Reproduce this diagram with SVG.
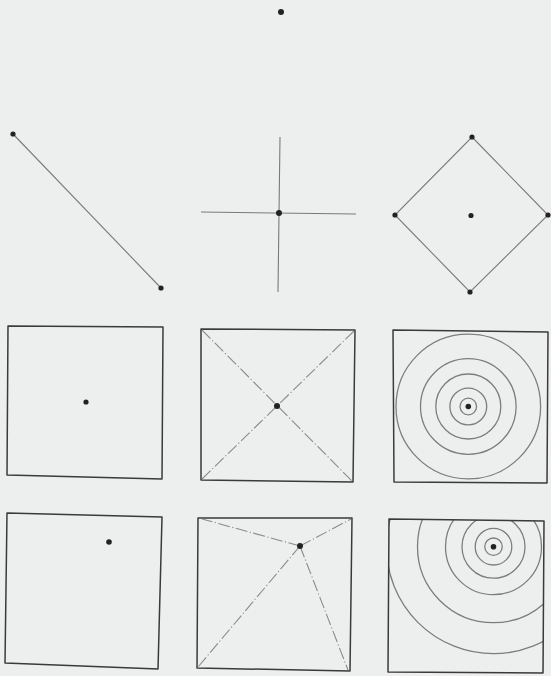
<svg xmlns="http://www.w3.org/2000/svg" width="551" height="676" viewBox="0 0 551 676">
<style>
.box{fill:none;stroke:#3a3a3a;stroke-width:1.5;stroke-linejoin:round}
.thin{fill:none;stroke:#7a7a7a;stroke-width:1.1}
.ring{fill:none;stroke:#7d7d7d;stroke-width:1.3}
.dd{fill:none;stroke:#8a8a8a;stroke-width:1.1;stroke-dasharray:12 2.5 1.2 2.5}
.dot{fill:#222}
</style>
<defs>
<clipPath id="clipBR"><polygon points="389,519 544,521 543,673 388,672"/></clipPath>
</defs>
<rect width="551" height="676" fill="#edefee"/>
<g id="point-top"><circle class="dot" cx="281" cy="12" r="3"/></g>
<g id="line-segment">
<line class="thin" x1="13" y1="134" x2="161" y2="288"/>
<circle class="dot" cx="13" cy="134" r="2.6"/>
<circle class="dot" cx="161" cy="288" r="2.6"/>
</g>
<g id="cross">
<line class="thin" x1="280" y1="137" x2="278" y2="292"/>
<line class="thin" x1="201" y1="212" x2="356" y2="214"/>
<circle class="dot" cx="279" cy="213" r="3"/>
</g>
<g id="diamond">
<polygon class="thin" points="472,137 548,215 470,292 395,215"/>
<circle class="dot" cx="472" cy="137" r="2.6"/>
<circle class="dot" cx="548" cy="215" r="2.6"/>
<circle class="dot" cx="470" cy="292" r="2.6"/>
<circle class="dot" cx="395" cy="215" r="2.6"/>
<circle class="dot" cx="471" cy="215.5" r="2.6"/>
</g>
<g id="square-center-dot">
<polygon class="box" points="8,326 163,327 162,479 7,475"/>
<circle class="dot" cx="86" cy="402" r="2.6"/>
</g>
<g id="square-diagonals">
<polygon class="box" points="201,329 355,330 353,482 201,480"/>
<g id="connectors-diag">
<line class="dd" x1="202" y1="330" x2="352" y2="481"/>
<line class="dd" x1="354" y1="331" x2="202" y2="479"/>
</g>
<circle class="dot" cx="277" cy="406" r="3"/>
</g>
<g id="square-concentric">
<polygon class="box" points="393,330 548,332 547,483 394,482"/>
<circle class="ring" cx="468.3" cy="406.5" r="8.3"/>
<circle class="ring" cx="468.3" cy="406.5" r="18.4"/>
<circle class="ring" cx="468.3" cy="406.5" r="32.5"/>
<circle class="ring" cx="468.3" cy="406.5" r="47.8"/>
<circle class="ring" cx="468.3" cy="406.5" r="72.3"/>
<circle class="dot" cx="468.3" cy="406.5" r="2.8"/>
</g>
<g id="square-offset-dot">
<polygon class="box" points="7,513 162,517 158,669 5,663"/>
<circle class="dot" cx="109" cy="542" r="2.8"/>
</g>
<g id="square-offset-lines">
<polygon class="box" points="198,518 352,518 350,671 197,668"/>
<g id="connectors-offset">
<line class="dd" x1="300" y1="546" x2="202" y2="519"/>
<line class="dd" x1="300" y1="546" x2="351" y2="519"/>
<line class="dd" x1="300" y1="546" x2="198" y2="667"/>
<line class="dd" x1="300" y1="546" x2="348" y2="670"/>
</g>
<circle class="dot" cx="300" cy="546" r="3"/>
</g>
<g id="square-offset-concentric">
<g clip-path="url(#clipBR)">
<circle class="ring" cx="493.5" cy="546.7" r="8.7"/>
<circle class="ring" cx="493.5" cy="546.7" r="18.3"/>
<circle class="ring" cx="493.5" cy="546.7" r="31.5"/>
<circle class="ring" cx="493.5" cy="546.7" r="48"/>
<circle class="ring" cx="493.5" cy="546.7" r="76"/>
<circle class="ring" cx="493.5" cy="546.7" r="107"/>
</g>
<polygon class="box" points="389,519 544,521 543,673 388,672"/>
<circle class="dot" cx="493.5" cy="546.7" r="2.8"/>
</g>
</svg>
